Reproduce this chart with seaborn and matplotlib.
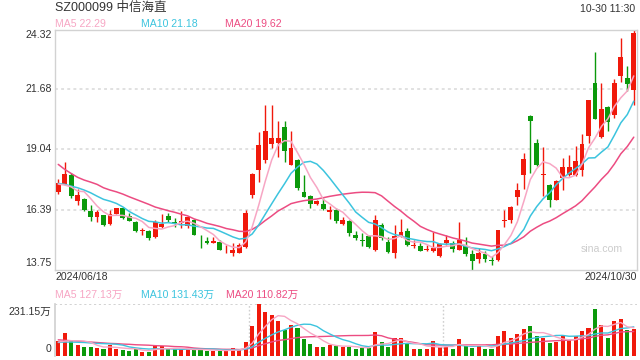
import numpy as np
import pandas as pd
import matplotlib
matplotlib.use("Agg")
import matplotlib.pyplot as plt
import seaborn as sns

# ---------------- data ----------------
opens = [17.17, 17.51, 17.91, 16.78, 16.85, 16.32, 16.07, 16.15, 15.75, 16.20,
         16.45, 16.10, 15.84, 15.45, 15.44, 15.16, 15.60, 16.10, 15.85, 15.78,
         15.66, 15.95, 15.19, 15.00, 14.93, 14.97, 14.46, 14.46, 14.49, 14.75,
         17.01, 18.15, 18.59, 19.26, 19.33, 20.02, 18.37, 18.59, 17.15, 16.98,
         16.65, 16.64, 16.29, 16.39, 15.77, 15.88, 15.26, 15.04, 15.22, 14.63,
         15.70, 14.94, 14.49, 15.22, 15.44, 14.78, 14.78, 14.62, 14.57, 14.35,
         14.92, 14.92, 14.63, 14.77, 14.44, 14.23, 14.44, 14.17, 14.19, 15.88,
         15.92, 16.96, 17.89, 20.50, 19.33, 17.93, 17.49, 16.79, 17.76, 17.93,
         17.90, 18.15, 19.62, 21.97, 19.58, 20.92, 20.55, 22.27, 22.19, 21.64]
highs = [17.72, 18.47, 17.98, 17.28, 16.91, 16.59, 16.39, 16.17, 16.39, 16.48,
         16.48, 16.22, 15.90, 15.56, 15.48, 15.92, 16.19, 16.22, 16.04, 16.34,
         16.10, 15.98, 15.29, 15.19, 15.19, 15.04, 14.82, 14.93, 14.93, 16.37,
         18.01, 19.81, 20.99, 20.99, 20.31, 20.28, 19.87, 18.62, 17.93, 17.05,
         16.83, 16.90, 16.54, 16.46, 16.07, 15.92, 15.44, 15.37, 15.29, 16.17,
         15.78, 15.16, 15.70, 15.97, 15.59, 15.04, 14.90, 14.82, 15.41, 14.93,
         15.29, 14.99, 15.85, 15.17, 14.63, 14.70, 14.55, 14.33, 15.51, 16.39,
         16.54, 17.57, 18.89, 20.55, 19.48, 19.15, 17.52, 17.67, 18.64, 18.79,
         19.18, 19.70, 21.20, 23.34, 21.97, 20.97, 22.12, 23.96, 22.71, 24.32]
lows = [17.07, 17.47, 16.88, 16.59, 16.34, 15.88, 15.85, 15.67, 15.73, 16.19,
        15.98, 15.88, 15.40, 15.26, 15.07, 15.12, 15.56, 15.85, 15.63, 15.56,
        15.56, 15.26, 14.70, 14.87, 14.93, 14.60, 14.46, 14.34, 14.49, 14.70,
        16.88, 17.61, 18.45, 19.08, 18.70, 18.49, 18.34, 17.23, 16.93, 16.46,
        16.58, 16.39, 15.99, 15.80, 15.70, 15.23, 15.04, 14.78, 14.70, 14.57,
        15.07, 14.49, 14.24, 15.19, 14.78, 14.68, 14.56, 14.57, 14.53, 14.28,
        14.82, 14.52, 14.63, 14.33, 13.75, 14.04, 14.07, 13.97, 14.11, 15.63,
        15.80, 16.61, 17.30, 17.98, 18.30, 16.98, 16.51, 16.79, 17.24, 17.86,
        17.86, 17.86, 19.33, 20.36, 19.55, 19.87, 20.43, 22.00, 21.61, 20.99]
closes = [17.57, 17.95, 16.98, 17.03, 16.37, 16.07, 16.29, 15.70, 16.19, 16.44,
          16.04, 15.90, 15.45, 15.48, 15.15, 15.82, 15.75, 15.92, 15.78, 15.88,
          16.07, 15.29, 15.16, 14.93, 15.00, 14.63, 14.49, 14.63, 14.82, 16.25,
          17.96, 19.23, 19.84, 19.55, 19.55, 18.96, 19.08, 17.35, 16.96, 16.65,
          16.76, 16.43, 16.39, 15.88, 15.91, 15.34, 15.15, 15.01, 14.75, 15.92,
          15.15, 14.53, 15.22, 15.38, 14.82, 14.82, 14.57, 14.66, 14.70, 14.87,
          15.07, 14.67, 15.07, 14.44, 14.14, 14.48, 14.23, 14.11, 15.51, 15.91,
          16.49, 17.23, 18.62, 20.31, 18.34, 17.96, 16.83, 17.64, 18.26, 18.26,
          18.55, 19.26, 21.20, 20.40, 20.84, 20.25, 21.97, 23.11, 21.90, 24.15]
volumes = [68, 102, 71, 50, 41, 41, 36, 32, 50, 32,
           27, 23, 29, 20, 20, 50, 43, 29, 29, 29,
           29, 29, 29, 23, 23, 23, 23, 35, 29, 64,
           132, 231.15, 196, 182, 155, 117, 137, 125, 76, 55,
           41, 41, 50, 46, 41, 41, 29, 35, 35, 106,
           61, 41, 78, 78, 56, 29, 29, 29, 68, 41,
           41, 33, 74, 50, 36, 44, 33, 29, 87, 109,
           81, 96, 119, 132, 90, 82, 56, 61, 90, 70,
           87, 109, 123, 210, 137, 78, 155, 164, 114, 119]

# moving-average values before full windows are available
ma5_head = [17.51, 17.47, 17.39, 17.20]
ma10_head = [17.54, 17.50, 17.42, 17.35, 17.25, 17.13, 16.98, 16.84, 16.76]
ma20_head = [18.38, 18.16, 17.98, 17.81, 17.69, 17.60, 17.50, 17.35, 17.25, 17.17,
             17.07, 16.95, 16.84, 16.73, 16.62, 16.50, 16.42, 16.34, 16.27]
vma5_head = [62, 66, 68, 68]
vma10_head = [60, 62, 62, 61, 60, 58, 56, 55, 54]
vma20_head = [72, 70, 68, 66, 64, 62, 60, 58, 56, 55,
              53, 52, 50, 49, 48, 46, 45, 44, 42]

y_ticks = [24.32, 21.68, 19.04, 16.39, 13.75]
title_text = "SZ000099 中信海直"
time_text = "10-30 11:30"
date_labels = ["2024/06/18", "2024/10/30"]
price_legend = ["MA5 22.29", "MA10 21.18", "MA20 19.62"]
vol_legend = ["MA5 127.13万", "MA10 131.43万", "MA20 110.82万"]
vol_max_label = "231.15万"

# ---------------- styling ----------------
RED = "#F0190B"
GREEN = "#0B990B"
C_MA5 = "#F7A6C4"
C_MA10 = "#3CC4DE"
C_MA20 = "#EC4C82"
BORDER = "#D2D2D2"
GRID = "#DEDEDE"

sns.set_theme(style="white")
plt.rcParams["font.family"] = ["Liberation Sans", "Noto Sans CJK SC", "DejaVu Sans"]

df = pd.DataFrame({"o": opens, "h": highs, "l": lows, "c": closes, "v": volumes})
df["i"] = np.arange(len(df))
up = df["c"] >= df["o"]
colors = np.where(up, RED, GREEN)


def ma(series, w, head):
    m = series.rolling(w).mean()
    m.iloc[: w - 1] = head
    return m


df["ma5"] = ma(df["c"], 5, ma5_head)
df["ma10"] = ma(df["c"], 10, ma10_head)
df["ma20"] = ma(df["c"], 20, ma20_head)
df["vma5"] = ma(df["v"], 5, vma5_head)
df["vma10"] = ma(df["v"], 10, vma10_head)
df["vma20"] = ma(df["v"], 20, vma20_head)

W, H = 640, 360
fig = plt.figure(figsize=(6.4, 3.6), dpi=100)
fig.patch.set_facecolor("white")

L, R = 55, 637
ax = fig.add_axes([L / W, 1 - 269.5 / H, (R - L) / W, 240 / H])
axv = fig.add_axes([L / W, 1 - 356 / H, (R - L) / W, 52 / H])

# ---- price panel ----
for y in y_ticks[1:-1]:
    ax.axhline(y, color=GRID, lw=1.3, ls=(0, (1.6, 1.8)), zorder=0)

ax.vlines(df["i"], df["l"], df["h"], colors=colors, lw=1.0, zorder=2)
body_bottom = np.minimum(df["o"], df["c"])
body_h = np.maximum(np.abs(df["c"] - df["o"]), 0.035)
ax.bar(df["i"], body_h, bottom=body_bottom, width=0.75, color=colors, lw=0, zorder=3)

for col, c in [("ma20", C_MA20), ("ma10", C_MA10), ("ma5", C_MA5)]:
    sns.lineplot(data=df, x="i", y=col, ax=ax, color=c, lw=1.1, estimator=None, zorder=4)

ax.set_xlim(-0.5, len(df) - 0.5)
ax.set_ylim(y_ticks[-1], y_ticks[0])
ax.set_xticks([])
ax.set_yticks([])
ax.set_xlabel("")
ax.set_ylabel("")
for s in ax.spines.values():
    s.set_visible(True)
    s.set_color(BORDER)
    s.set_linewidth(1.0)

# ---- volume panel ----
vmax = max(volumes)
axv.bar(df["i"], df["v"], width=0.62, color=colors, lw=0, zorder=3)
for col, c in [("vma20", C_MA20), ("vma10", C_MA10), ("vma5", C_MA5)]:
    sns.lineplot(data=df, x="i", y=col, ax=axv, color=c, lw=1.0, estimator=None, zorder=4)
n = len(df)
for k in (1, 2):
    axv.axvline(-0.5 + n * k / 3, color="#CFCFCF", lw=1.0, ls=(0, (1.2, 1.5)), zorder=0)
axv.axhline(vmax, color="#CFCFCF", lw=1.3, ls=(0, (1.2, 1.5)), zorder=0)
axv.set_xlim(-0.5, n - 0.5)
axv.set_ylim(0, vmax)
axv.set_xticks([])
axv.set_yticks([])
axv.set_xlabel("")
axv.set_ylabel("")
for name, s in axv.spines.items():
    s.set_visible(name == "left")
    s.set_color(BORDER)

# ---------------- texts ----------------
def ftext(x, y, s, **kw):
    fig.text(x / W, 1 - y / H, s, **kw)

TXT = "#333333"
ftext(55, 7.5, title_text, fontsize=9, color=TXT, va="center", ha="left")
ftext(635, 9, time_text, fontsize=7.6, color=TXT, va="center", ha="right")
for xx, s, c in zip([55, 141, 225], price_legend, [C_MA5, C_MA10, C_MA20]):
    ftext(xx, 24, s, fontsize=7.6, color=c, va="center", ha="left")

for val in y_ticks:
    ypix = 29.5 + (y_ticks[0] - val) / (y_ticks[0] - y_ticks[-1]) * 240
    if val == y_ticks[0]:
        ypix = 35
    elif val == y_ticks[-1]:
        ypix = 263
    ftext(51.5, ypix, f"{val:.2f}", fontsize=7.6, color=TXT, va="center", ha="right")

ftext(55, 277, date_labels[0], fontsize=7.6, color=TXT, va="center", ha="left")
ftext(637, 277, date_labels[1], fontsize=7.6, color=TXT, va="center", ha="right")
for xx, s, c in zip([55, 141, 226], vol_legend, [C_MA5, C_MA10, C_MA20]):
    ftext(xx, 295, s, fontsize=7.6, color=c, va="center", ha="left")
ftext(51.5, 312, vol_max_label, fontsize=7.6, color=TXT, va="center", ha="right")
ftext(51.5, 349, "0", fontsize=7.6, color=TXT, va="center", ha="right")
ftext(602, 249, "sina.com", fontsize=7.6, color="#CCCCCC", va="center", ha="center")

fig.savefig("out.png", dpi=100, facecolor="white")
